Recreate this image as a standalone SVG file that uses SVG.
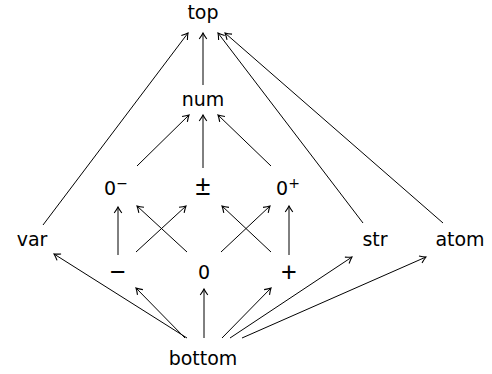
<svg xmlns="http://www.w3.org/2000/svg" width="492" height="374" viewBox="0 0 492 374">
<style>
text{font-family:"DejaVu Sans","Liberation Sans",sans-serif;font-size:19px;fill:#000;text-anchor:middle}
.sup{font-size:14px}
.sym{font-family:"Liberation Sans","DejaVu Sans",sans-serif;font-size:27px}
line{stroke:#000;stroke-width:1;fill:none;marker-end:url(#ah)}
</style>
<defs>
<marker id="ah" viewBox="-7 -5 9 10" markerWidth="9" markerHeight="10" markerUnits="userSpaceOnUse" orient="auto" refX="0" refY="0">
<path d="M-6,-3.8 Q-2.5,-1.2 0,0 Q-2.5,1.2 -6,3.8" fill="none" stroke="#000" stroke-width="1.1"/>
</marker>
</defs>
<rect width="492" height="374" fill="#fff"/>
<g id="connectors">
<line x1="43" y1="225" x2="188" y2="33"/>
<line x1="203" y1="85" x2="203" y2="33"/>
<line x1="363" y1="223" x2="218" y2="33"/>
<line x1="443" y1="223" x2="225" y2="33"/>
<line x1="137" y1="166" x2="189" y2="115"/>
<line x1="203" y1="168" x2="203" y2="115"/>
<line x1="271" y1="166" x2="218" y2="115"/>
<line x1="118" y1="255" x2="118" y2="207"/>
<line x1="136" y1="252" x2="186" y2="206"/>
<line x1="187" y1="252" x2="137" y2="206"/>
<line x1="221" y1="252" x2="270" y2="206"/>
<line x1="271" y1="252" x2="222" y2="206"/>
<line x1="289" y1="255" x2="289" y2="206"/>
<line x1="187" y1="338" x2="54" y2="254"/>
<line x1="185" y1="338" x2="136" y2="288"/>
<line x1="204" y1="338" x2="204" y2="289"/>
<line x1="222" y1="338" x2="271" y2="288"/>
<line x1="230" y1="338" x2="352" y2="257"/>
<line x1="242" y1="338" x2="426" y2="257"/>
</g>
<g id="top"><text x="203" y="19">top</text></g>
<g id="num"><text x="203" y="106">num</text></g>
<g id="zero-minus"><text x="116" y="195">0<tspan class="sup" dy="-7">−</tspan></text></g>
<g id="plusminus"><text class="sym" x="203" y="195">±</text></g>
<g id="zero-plus"><text x="288" y="195">0<tspan class="sup" dy="-7">+</tspan></text></g>
<g id="var"><text x="32" y="246">var</text></g>
<g id="str"><text x="375" y="246">str</text></g>
<g id="atom"><text x="460" y="246">atom</text></g>
<g id="minus"><text class="sym" x="118" y="281">−</text></g>
<g id="zero"><text x="204" y="279">0</text></g>
<g id="plus"><text class="sym" x="289" y="281">+</text></g>
<g id="bottom"><text x="203" y="365">bottom</text></g>
</svg>
